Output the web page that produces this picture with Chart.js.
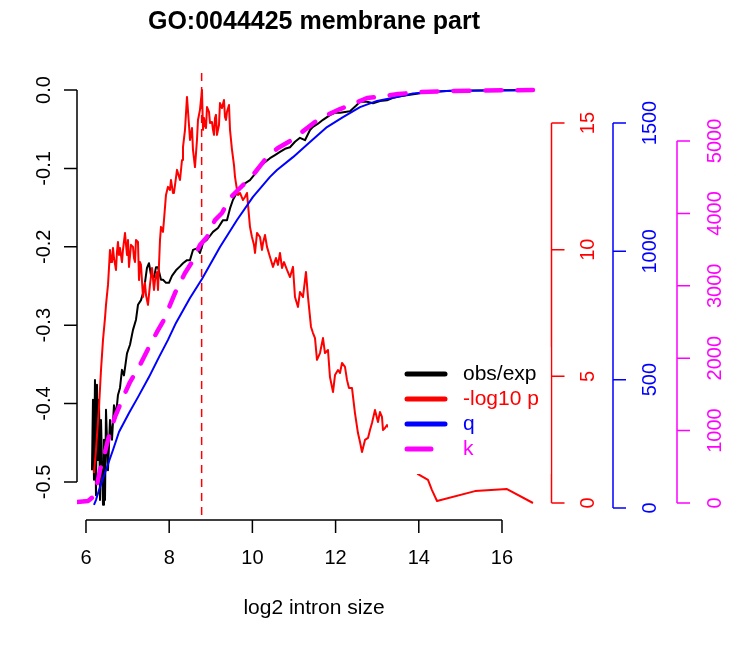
<!DOCTYPE html>
<html>
<head>
<meta charset="utf-8">
<script src="https://cdn.jsdelivr.net/npm/chart.js@4.4.1/dist/chart.umd.min.js"></script>
<style>
html, body { margin: 0; padding: 0; background: #fff; }
#wrap { width: 738px; height: 648px; }
</style>
</head>
<body>
<div id="wrap"><canvas id="chart" width="738" height="648"></canvas></div>
<script>
// obs/exp (left axis)
var obsX = [6.144, 6.168, 6.192, 6.216, 6.240, 6.264, 6.288, 6.313, 6.337, 6.361,
    6.409, 6.433, 6.457, 6.481, 6.529, 6.577, 6.625, 6.673, 6.721, 6.769,
    6.817, 6.865, 6.913, 6.986, 7.058, 7.130, 7.202, 7.250, 7.322, 7.394,
    7.466, 7.514, 7.563, 7.635, 7.683, 7.731, 7.803, 7.851, 7.923, 7.995,
    8.067, 8.163, 8.260, 8.332, 8.428, 8.500, 8.572, 8.668, 8.740, 8.813,
    8.909, 9.053, 9.173, 9.293, 9.389, 9.462, 9.534, 9.606, 9.702, 9.822,
    9.942, 10.063, 10.183, 10.303, 10.423, 10.543, 10.663, 10.784, 10.904, 11.024,
    11.144, 11.264, 11.385, 11.457, 11.577, 11.697, 11.865, 11.986, 12.106, 12.226,
    12.346, 12.490, 12.587, 12.755, 12.899, 13.067, 13.236, 13.380, 13.548, 13.909,
    14.197, 14.750, 15.471, 16.745];
var obsVals = [-0.485, -0.395, -0.497, -0.370, -0.517, -0.376, -0.472, -0.395, -0.523, -0.421,
    -0.529, -0.446, -0.523, -0.408, -0.485, -0.421, -0.446, -0.402, -0.415, -0.389,
    -0.380, -0.357, -0.364, -0.336, -0.325, -0.306, -0.293, -0.274, -0.268, -0.255,
    -0.227, -0.221, -0.236, -0.239, -0.226, -0.226, -0.242, -0.242, -0.246, -0.246,
    -0.237, -0.230, -0.225, -0.221, -0.217, -0.217, -0.204, -0.202, -0.208, -0.195,
    -0.191, -0.181, -0.176, -0.166, -0.166, -0.151, -0.140, -0.133, -0.124, -0.119,
    -0.115, -0.107, -0.098, -0.092, -0.087, -0.083, -0.079, -0.075, -0.073, -0.066,
    -0.061, -0.064, -0.051, -0.047, -0.043, -0.038, -0.032, -0.029, -0.029, -0.028,
    -0.027, -0.020, -0.015, -0.015, -0.017, -0.014, -0.013, -0.010, -0.008, -0.005,
    -0.003, -0.001, -0.0006, 0.0];

// -log10 p (red axis)
var pX = [6.192, 6.240, 6.313, 6.361, 6.409, 6.457, 6.481, 6.529, 6.553, 6.577,
    6.601, 6.625, 6.649, 6.673, 6.721, 6.745, 6.769, 6.793, 6.817, 6.865,
    6.889, 6.938, 6.962, 6.986, 7.010, 7.034, 7.082, 7.130, 7.154, 7.178,
    7.202, 7.250, 7.274, 7.298, 7.322, 7.370, 7.418, 7.442, 7.490, 7.538,
    7.587, 7.635, 7.659, 7.707, 7.731, 7.779, 7.803, 7.851, 7.875, 7.923,
    7.971, 8.019, 8.043, 8.091, 8.115, 8.188, 8.260, 8.308, 8.332, 8.380,
    8.428, 8.476, 8.500, 8.548, 8.572, 8.620, 8.668, 8.692, 8.740, 8.788,
    8.813, 8.837, 8.861, 8.885, 8.909, 8.957, 8.981, 9.029, 9.053, 9.077,
    9.101, 9.125, 9.149, 9.197, 9.221, 9.269, 9.317, 9.341, 9.365, 9.389,
    9.438, 9.462, 9.510, 9.558, 9.582, 9.630, 9.654, 9.702, 9.774, 9.822,
    9.870, 9.942, 9.990, 10.038, 10.063, 10.111, 10.183, 10.231, 10.255, 10.303,
    10.351, 10.423, 10.495, 10.567, 10.615, 10.663, 10.712, 10.760, 10.832, 10.904,
    10.976, 11.024, 11.096, 11.144, 11.216, 11.288, 11.337, 11.409, 11.457, 11.505,
    11.553, 11.625, 11.697, 11.745, 11.817, 11.865, 11.938, 11.986, 12.058, 12.106,
    12.154, 12.226, 12.274, 12.322, 12.394, 12.466, 12.538, 12.587, 12.635, 12.707,
    12.779, 12.827, 12.875, 12.947, 13.019, 13.067, 13.115, 13.139, 13.188, 13.236,
    13.548, 13.837, 13.981, 14.221, 14.317, 14.438, 15.351, 16.120, 16.745];
var pVals = [1.18, 2.09, 3.79, 5.25, 6.44, 7.30, 7.82, 8.61, 9.28, 9.99,
    9.51, 9.51, 10.07, 9.67, 9.20, 9.91, 10.30, 9.79, 10.07, 9.51,
    9.99, 10.66, 10.19, 9.79, 10.38, 9.32, 10.19, 10.11, 9.67, 9.51,
    10.38, 10.30, 8.80, 9.51, 9.40, 8.13, 8.69, 8.21, 7.82, 8.61,
    9.28, 8.41, 8.80, 9.12, 8.41, 10.38, 10.90, 10.70, 11.17, 12.16,
    12.48, 12.36, 12.75, 12.24, 12.24, 13.15, 12.75, 13.54, 14.05, 14.73,
    16.03, 14.92, 14.33, 14.80, 13.94, 13.26, 14.33, 15.12, 15.52, 16.30,
    14.73, 15.20, 14.92, 14.80, 15.63, 15.44, 15.00, 15.04, 14.73, 14.53,
    15.20, 15.32, 14.53, 14.92, 15.79, 15.59, 15.91, 15.24, 15.12, 15.44,
    15.71, 14.73, 13.94, 13.34, 12.87, 12.36, 12.16, 12.24, 11.96, 12.08,
    12.24, 10.90, 10.50, 10.19, 9.87, 10.66, 10.50, 9.99, 10.26, 10.58,
    10.11, 9.71, 9.32, 9.67, 9.40, 9.87, 9.28, 9.51, 9.20, 8.92,
    9.32, 8.13, 7.74, 8.33, 8.13, 9.12, 8.13, 6.95, 6.71, 6.51,
    5.65, 5.92, 6.51, 5.92, 6.04, 4.97, 4.38, 5.05, 5.25, 5.13,
    5.53, 5.37, 4.86, 4.54, 4.54, 3.55, 2.76, 2.41, 2.01, 2.49,
    2.57, 2.88, 3.16, 3.67, 3.20, 3.59, 3.40, 2.88, 2.96, 3.08,
    2.29, 1.50, 1.14, 0.91, 0.51, 0.08, 0.47, 0.55, 0.00];

// q (blue axis)
var qX = [6.192, 6.240, 6.313, 6.481, 6.649, 6.793, 7.034, 7.250, 7.514, 7.755,
    7.971, 8.163, 8.500, 8.788, 9.221, 9.630, 10.014, 10.423, 10.591, 10.976,
    11.385, 11.793, 12.178, 12.587, 12.995, 13.476, 13.861, 14.269, 14.678, 15.471,
    16.745];
var qVals = [12, 31, 70, 148, 226, 296, 370, 432, 510, 588,
    655, 721, 818, 892, 1017, 1122, 1212, 1290, 1317, 1367,
    1426, 1484, 1523, 1562, 1586, 1601, 1615, 1621, 1625, 1627,
    1628];

// k (magenta axis)
var kX = [5.784, 6.048, 6.168, 6.264, 6.337, 6.457, 6.577, 6.697, 6.817, 6.938,
    7.058, 7.298, 7.538, 7.707, 7.899, 8.019, 8.139, 8.380, 8.548, 8.740,
    8.909, 9.101, 9.269, 9.462, 9.654, 9.822, 10.014, 10.375, 10.615, 10.904,
    11.192, 11.505, 11.793, 12.106, 12.418, 12.755, 13.139, 13.500, 14.029, 14.750,
    15.471, 16.745];
var kVals = [14, 28, 83, 249, 456, 704, 981, 1188, 1353, 1519,
    1671, 1906, 2182, 2362, 2555, 2734, 2900, 3176, 3328, 3563,
    3673, 3908, 4005, 4212, 4323, 4419, 4530, 4792, 4903, 4999,
    5124, 5262, 5358, 5441, 5510, 5593, 5621, 5648, 5676, 5690,
    5697, 5704];

var peakX = 8.78;

var xTicks = [6, 8, 10, 12, 14, 16];
var obsTicks = [-0.5, -0.4, -0.3, -0.2, -0.1, 0.0];
var obsTickLabels = ['-0.5', '-0.4', '-0.3', '-0.2', '-0.1', '0.0'];
var pTicks = [0, 5, 10, 15];
var qTicks = [0, 500, 1000, 1500];
var kTicks = [0, 1000, 2000, 3000, 4000, 5000];

var legendNames = ['obs/exp', '-log10 p', 'q', 'k'];
var legendColors = ['#000000', '#ff0000', '#0000ff', '#ff00ff'];

var FONT = '"Liberation Sans", Arial, Helvetica, sans-serif';

function zip(xs, ys) {
    var out = [];
    for (var i = 0; i < xs.length; i++) out.push({ x: xs[i], y: ys[i] });
    return out;
}

// R style axis on a vertical side, line only spans first..last tick
function drawYAxis(ctx, scale, ticks, labels, x, dir, color, labelX) {
    var y0 = scale.getPixelForValue(ticks[0]);
    var y1 = scale.getPixelForValue(ticks[ticks.length - 1]);
    ctx.strokeStyle = color;
    ctx.fillStyle = color;
    ctx.lineWidth = 1.5;
    ctx.beginPath();
    ctx.moveTo(x, y0);
    ctx.lineTo(x, y1);
    for (var i = 0; i < ticks.length; i++) {
        var y = scale.getPixelForValue(ticks[i]);
        ctx.moveTo(x, y);
        ctx.lineTo(x + dir * 13, y);
    }
    ctx.stroke();
    ctx.textAlign = 'center';
    ctx.textBaseline = 'middle';
    for (var j = 0; j < ticks.length; j++) {
        var yy = scale.getPixelForValue(ticks[j]);
        ctx.save();
        ctx.translate(labelX, yy);
        ctx.rotate(-Math.PI / 2);
        ctx.fillText(labels[j], 0, 0);
        ctx.restore();
    }
}

var rPlot = {
    id: 'rPlot',
    beforeDatasetsDraw: function (chart) {
        var ctx = chart.ctx, a = chart.chartArea;
        var px = chart.scales.x.getPixelForValue(peakX);
        ctx.save();
        ctx.strokeStyle = '#ff0000';
        ctx.lineWidth = 1.5;
        ctx.setLineDash([8, 6]);
        ctx.beginPath();
        ctx.moveTo(px, a.top);
        ctx.lineTo(px, a.bottom);
        ctx.stroke();
        ctx.restore();
    },
    afterDraw: function (chart) {
        var ctx = chart.ctx, a = chart.chartArea, s = chart.scales;
        ctx.save();
        ctx.font = '20px ' + FONT;

        // x axis
        var xs = s.x;
        ctx.strokeStyle = '#000';
        ctx.lineWidth = 1.5;
        ctx.beginPath();
        ctx.moveTo(xs.getPixelForValue(xTicks[0]), a.bottom);
        ctx.lineTo(xs.getPixelForValue(xTicks[xTicks.length - 1]), a.bottom);
        xTicks.forEach(function (t) {
            var x = xs.getPixelForValue(t);
            ctx.moveTo(x, a.bottom);
            ctx.lineTo(x, a.bottom + 13);
        });
        ctx.stroke();
        ctx.fillStyle = '#000';
        ctx.textAlign = 'center';
        ctx.textBaseline = 'middle';
        xTicks.forEach(function (t) {
            ctx.fillText(String(t), xs.getPixelForValue(t), a.bottom + 38);
        });

        // y axes
        drawYAxis(ctx, s.yObs, obsTicks, obsTickLabels, a.left, -1, '#000000', a.left - 33);
        drawYAxis(ctx, s.yP, pTicks, pTicks.map(String), a.right + 0.5, 1, '#ff0000', a.right + 37);
        drawYAxis(ctx, s.yQ, qTicks, qTicks.map(String), a.right + 62, 1, '#0000ff', a.right + 99);
        drawYAxis(ctx, s.yK, kTicks, kTicks.map(String), a.right + 126, 1, '#ff00ff', a.right + 164);

        ctx.font = '21px ' + FONT;
        ctx.fillStyle = '#000';
        ctx.textAlign = 'center';
        ctx.textBaseline = 'middle';
        ctx.fillText('log2 intron size', (a.left + a.right) / 2, a.bottom + 88);

        // legend (white box drawn over the lines)
        ctx.fillStyle = '#ffffff';
        ctx.fillRect(388, 347, a.right - 388.5, 127);
        ctx.lineCap = 'round';
        ctx.lineWidth = 5;
        ctx.textAlign = 'left';
        for (var i = 0; i < legendNames.length; i++) {
            var ly = 374 + i * 25;
            ctx.strokeStyle = legendColors[i];
            ctx.beginPath();
            ctx.moveTo(407, ly);
            ctx.lineTo(i === 3 ? 431 : 445, ly);
            ctx.stroke();
            ctx.fillStyle = legendColors[i];
            ctx.fillText(legendNames[i], 463, ly);
        }

        // title
        ctx.fillStyle = '#000';
        ctx.textAlign = 'center';
        ctx.font = 'bold 25px ' + FONT;
        ctx.fillText('GO:0044425 membrane part', (a.left + a.right) / 2, 22);
        ctx.restore();
    }
};

var ctx = document.getElementById('chart');
var chart = new Chart(ctx, {
    type: 'line',
    data: {
        datasets: [
            { label: 'k', data: zip(kX, kVals), yAxisID: 'yK', order: 0,
              borderColor: '#ff00ff', borderWidth: 4.5, borderDash: [16, 16], borderCapStyle: 'round' },
            { label: 'q', data: zip(qX, qVals), yAxisID: 'yQ', order: 1,
              borderColor: '#0000ff', borderWidth: 2 },
            { label: '-log10 p', data: zip(pX, pVals), yAxisID: 'yP', order: 2,
              borderColor: '#ff0000', borderWidth: 2 },
            { label: 'obs/exp', data: zip(obsX, obsVals), yAxisID: 'yObs', order: 3,
              borderColor: '#000000', borderWidth: 2 }
        ]
    },
    options: {
        responsive: false,
        animation: false,
        devicePixelRatio: 1,
        layout: { padding: { left: 77, right: 187, top: 73, bottom: 128 } },
        elements: {
            point: { radius: 0, hoverRadius: 0 },
            line: { tension: 0, fill: false, borderJoinStyle: 'round' }
        },
        plugins: { legend: { display: false }, title: { display: false }, tooltip: { enabled: false } },
        events: [],
        scales: {
            x: { type: 'linear', display: false, min: 5.784, max: 17.178 },
            yObs: { type: 'linear', display: false, position: 'left', min: -0.5485, max: 0.0217 },
            yP: { type: 'linear', display: false, position: 'right', min: -0.671, max: 16.974 },
            yQ: { type: 'linear', display: false, position: 'right', min: -46.75, max: 1694.8 },
            yK: { type: 'linear', display: false, position: 'right', min: -234.8, max: 5939 }
        }
    },
    plugins: [rPlot]
});
</script>
</body>
</html>
